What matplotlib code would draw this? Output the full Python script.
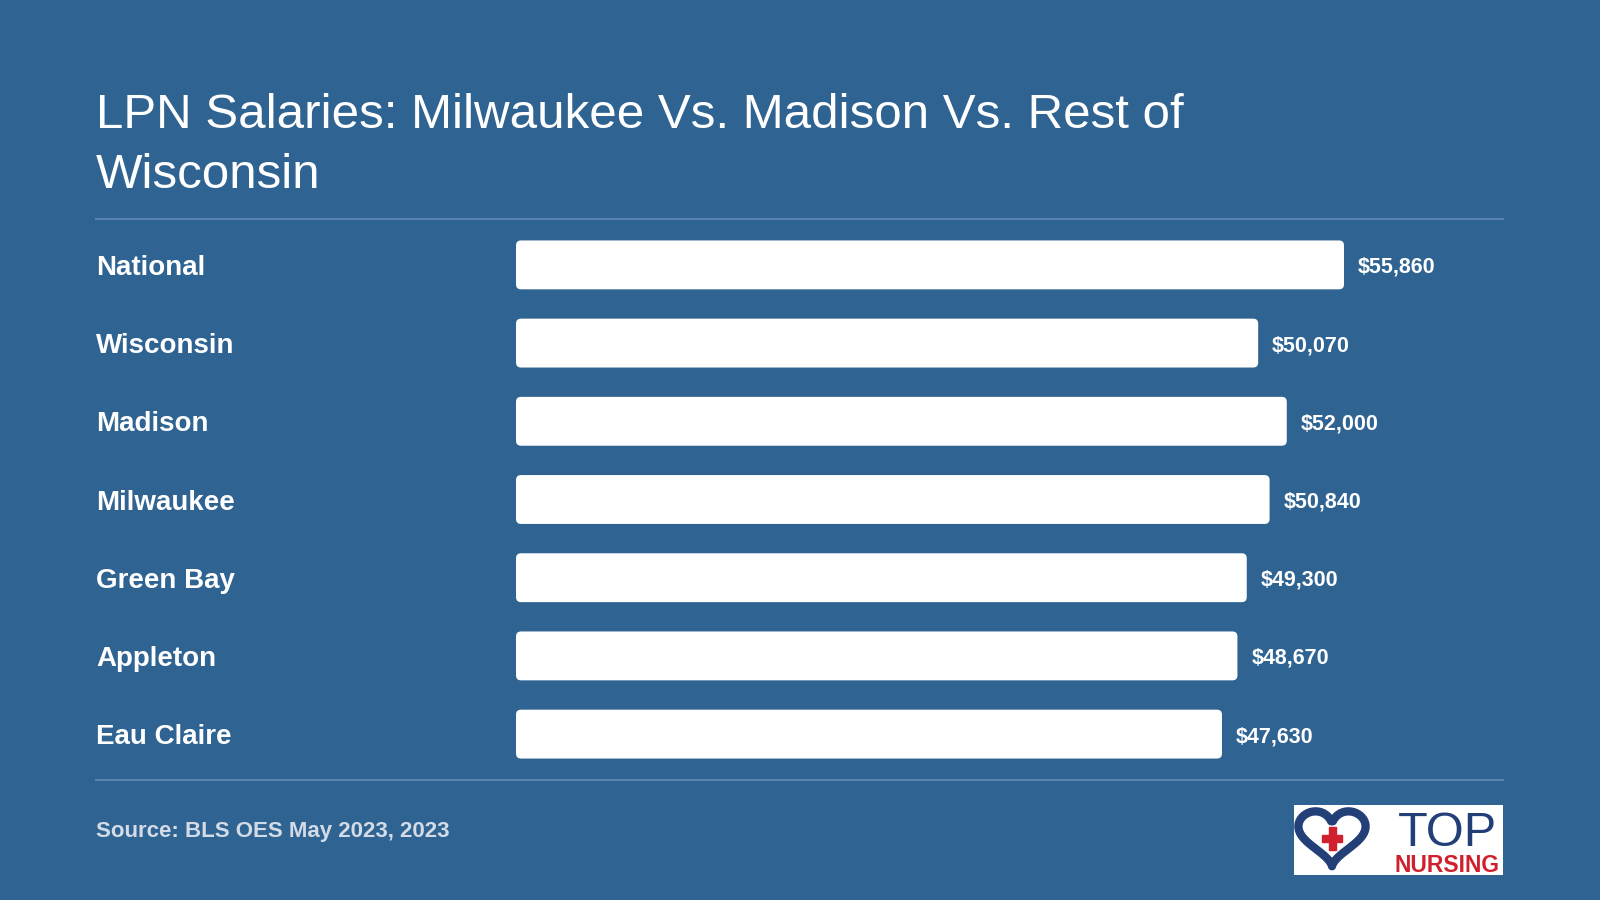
import matplotlib
matplotlib.use("Agg")
import matplotlib.pyplot as plt
import matplotlib.transforms as mtransforms
from matplotlib.patches import FancyBboxPatch, Rectangle
import numpy as np

plt.rcParams['font.family'] = ['Liberation Sans', 'DejaVu Sans']

# data
places = ["National", "Wisconsin", "Madison", "Milwaukee", "Green Bay", "Appleton", "Eau Claire"]
salaries = [55860, 50070, 52000, 50840, 49300, 48670, 47630]
title = "LPN Salaries: Milwaukee Vs. Madison Vs. Rest of\nWisconsin"
source = "Source: BLS OES May 2023, 2023"

bg = "#2f6392"
line_col = "#5a84ae"
W, H = 1600, 900

fig = plt.figure(figsize=(16, 9), dpi=100)
fig.patch.set_facecolor(bg)

# title (baseline = last line)
fig.text(96 / W, 1 - 188 / H, title, color="white", fontsize=35.5, va="baseline",
         ha="left", linespacing=1.42)
fig.add_artist(plt.Line2D([96 / W, 1503 / W], [1 - 219 / H] * 2, color=line_col, lw=1.5))
fig.add_artist(plt.Line2D([96 / W, 1503 / W], [1 - 780 / H] * 2, color=line_col, lw=1.5))

# bars
ax = fig.add_axes([516 / W, 1 - 780 / H, (1503 - 516) / W, (780 - 219) / H])
ax.set_facecolor("none")
xmax = 55860 * 987 / 828
ax.set_xlim(0, xmax)
pad = 46 / 78.4
ax.set_ylim(len(places) - 1 + pad, -pad)
ax.axis("off")

bh = 49 / 78.4
rx = 5 * xmax / 987
ry = 5 * (len(places) - 1 + 2 * pad) / 561
for i, v in enumerate(salaries):
    p = FancyBboxPatch((0, i - bh / 2), v, bh,
                       boxstyle=f"round,pad=0,rounding_size={rx}",
                       mutation_aspect=ry / rx, fc="white", ec="none")
    ax.add_patch(p)
    ax.text(v + 14 * xmax / 987, i, f"${v:,}", color="white", fontsize=15.5,
            fontweight="bold", va="center_baseline", ha="left")

trans = mtransforms.blended_transform_factory(fig.transFigure, ax.transData)
for i, name in enumerate(places):
    ax.text(96 / W, i, name, transform=trans, color="white", fontsize=20,
            fontweight="bold", va="center_baseline", ha="left")

fig.text(96 / W, 1 - 837 / H, source, color="#d3dbe6", fontsize=16,
         fontweight="bold", va="baseline", ha="left")

# logo
lax = fig.add_axes([1294 / W, 1 - 875 / H, 209 / W, 70 / H])
lax.set_xlim(0, 209)
lax.set_ylim(0, 70)
lax.set_facecolor("white")
for s in lax.spines.values():
    s.set_visible(False)
lax.set_xticks([])
lax.set_yticks([])
t = np.linspace(0.3, 2 * np.pi - 0.3, 200)
hx = 16 * np.sin(t) ** 3
hy = 13 * np.cos(t) - 5 * np.cos(2 * t) - 2 * np.cos(3 * t) - np.cos(4 * t)
lax.plot(38 + hx * 2.1, 41 + hy * 1.9, color="#233f78", lw=6, solid_capstyle="round")
lax.add_patch(Rectangle((28, 33), 20, 7, color="#d0202e"))
lax.add_patch(Rectangle((34.5, 25), 7, 23, color="#d0202e"))
lax.text(203, 29.5, "TOP", color="#233f78", fontsize=35, ha="right", va="baseline")
lax.text(205, 2.5, "NURSING", color="#d0202e", fontsize=16.5, fontweight="bold",
         ha="right", va="baseline")

fig.savefig("out.png", dpi=100, facecolor=bg)
